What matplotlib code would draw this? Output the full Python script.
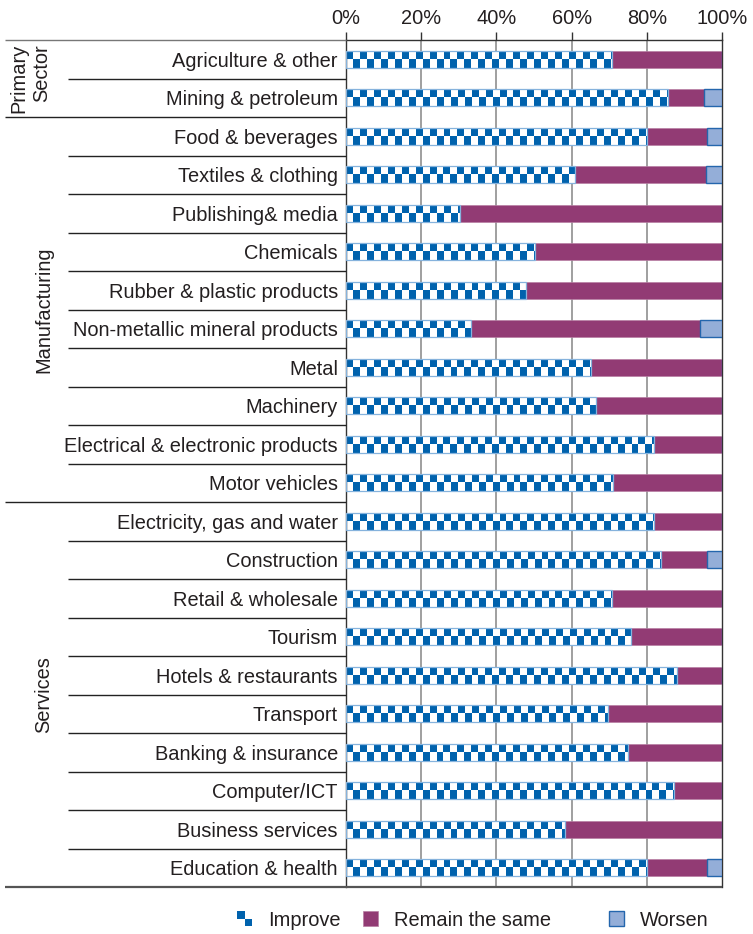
import numpy as np
import matplotlib
matplotlib.use("Agg")
import matplotlib.pyplot as plt
from matplotlib.colors import ListedColormap
from matplotlib.patches import Rectangle
from matplotlib.legend_handler import HandlerBase
import matplotlib.transforms as mtransforms

plt.rcParams['font.family'] = ['Liberation Sans', 'DejaVu Sans']

categories = [
    "Agriculture & other", "Mining & petroleum",
    "Food & beverages", "Textiles & clothing", "Publishing& media", "Chemicals",
    "Rubber & plastic products", "Non-metallic mineral products", "Metal",
    "Machinery", "Electrical & electronic products", "Motor vehicles",
    "Electricity, gas and water", "Construction", "Retail & wholesale", "Tourism",
    "Hotels & restaurants", "Transport", "Banking & insurance", "Computer/ICT",
    "Business services", "Education & health",
]
improve = [70.7, 85.7, 80.0, 60.9, 30.2, 50.2, 47.8, 33.3, 65.1, 66.6, 81.9,
           71.1, 82.0, 83.8, 70.8, 75.8, 87.9, 69.7, 75.0, 87.2, 58.2, 80.0]
remain = [29.3, 9.6, 16.0, 34.8, 69.8, 49.8, 52.2, 60.9, 34.9, 33.4, 18.1,
          28.9, 18.0, 12.3, 29.2, 24.2, 12.1, 30.3, 25.0, 12.8, 41.8, 16.0]
worsen = [0, 4.7, 4.0, 4.3, 0, 0, 0, 5.8, 0, 0, 0,
          0, 0, 3.9, 0, 0, 0, 0, 0, 0, 0, 4.0]
groups = [("Primary\nSector", 0, 1), ("Manufacturing", 2, 11), ("Services", 12, 21)]
xticks = [0, 20, 40, 60, 80, 100]
xticklabels = ["0%", "20%", "40%", "60%", "80%", "100%"]
series_names = ["Improve", "Remain the same", "Worsen"]

BLUE = "#0062ad"
BLUE_EDGE = "#86b3dd"
PURPLE = "#923b74"
WORSEN = "#94aed8"
WORSEN_EDGE = "#2466ad"
TEXT = "#231f20"

fig = plt.figure(figsize=(7.53, 9.34), dpi=100)
ax = fig.add_axes([346 / 753, 1 - 887 / 934, 376 / 753, 847 / 934])

n = len(categories)
y = np.arange(n)
h = 0.45
improve = np.array(improve)
remain = np.array(remain)
worsen = np.array(worsen)

# grid
for gx in xticks[1:-1]:
    ax.axvline(gx, color="#8f8f8f", lw=1.2, zorder=1)

bars_imp = ax.barh(y, improve, height=h, facecolor="none",
                   edgecolor=BLUE_EDGE, lw=0.9, zorder=4)
ax.barh(y, remain, left=improve, height=h, color=PURPLE,
        edgecolor="#b77fa3", lw=0.5, zorder=3)
ax.barh(y, worsen, left=improve + remain, height=h, color=WORSEN,
        edgecolor=WORSEN_EDGE, lw=1.0, zorder=3)

# checker texture for "Improve" bars
cw = 100 / 54.0
cmap = ListedColormap(["white", BLUE])
for yi, v, bar in zip(y, improve, bars_imp):
    ncols = int(np.ceil(v / cw))
    arr = 1 - (np.indices((2, ncols)).sum(axis=0) % 2)
    im = ax.imshow(arr, cmap=cmap, vmin=0, vmax=1, interpolation="nearest",
                   extent=(0, ncols * cw, yi + h / 2, yi - h / 2),
                   aspect="auto", zorder=2, origin="upper")
    im.set_clip_path(bar)

ax.set_xlim(0, 100)
ax.set_ylim(n - 0.5, -0.5)

ax.set_yticks(y, categories)
ax.tick_params(axis="y", length=0, pad=5.8, labelsize=14.4, labelcolor=TEXT)
ax.xaxis.tick_top()
ax.set_xticks(xticks, xticklabels)
ax.tick_params(axis="x", length=6, width=1, color="#333333", pad=2.5,
               labelsize=14.4, labelcolor=TEXT)

for s in ["left", "right", "top"]:
    ax.spines[s].set_color("#333333")
    ax.spines[s].set_linewidth(1)
ax.spines["bottom"].set_visible(False)

trans = mtransforms.blended_transform_factory(ax.transAxes, ax.transData)
# row separators in label area
group_bounds = set()
for _, a, b in groups:
    group_bounds.add(a - 0.5)
    group_bounds.add(b + 0.5)
for i in range(n + 1):
    yy = i - 0.5
    if yy in group_bounds:
        x0 = -0.907
    else:
        x0 = -0.739
    x1 = 1.0 if yy == n - 0.5 else 0.0
    col = "#555555" if yy == n - 0.5 else ("#777777" if yy == -0.5 else "#222222")
    lw = 1.6 if yy == n - 0.5 else 1.0
    ax.plot([x0, x1], [yy, yy], transform=trans, color=col, lw=lw,
            clip_on=False, zorder=5, solid_capstyle="butt")

# group labels
for name, a, b in groups:
    if "\n" in name:
        ax.text(-0.840, (a + b) / 2, name, transform=trans, rotation=90,
                ha="center", va="center", fontsize=14.4, color=TEXT,
                linespacing=1.25, multialignment="right")
    else:
        ax.text(-0.803, (a + b) / 2, name, transform=trans, rotation=90,
                ha="center", va="center", fontsize=14.4, color=TEXT)

# legend
class CheckerHandler(HandlerBase):
    def create_artists(self, legend, orig_handle, xdescent, ydescent,
                       width, height, fontsize, trans):
        w2, h2 = width / 2, height / 2
        arts = []
        for (cx, cy, c) in [(0, 1, BLUE), (1, 1, "white"), (0, 0, "white"), (1, 0, BLUE)]:
            r = Rectangle((-xdescent + cx * w2, -ydescent + cy * h2), w2, h2,
                          facecolor=c, edgecolor="none", transform=trans)
            arts.append(r)
        return arts

h_imp = Rectangle((0, 0), 1, 1, facecolor=BLUE)
h_rem = Rectangle((0, 0), 1, 1, facecolor=PURPLE, edgecolor="#b77fa3", lw=0.5)
h_wor = Rectangle((0, 0), 1, 1, facecolor=WORSEN, edgecolor=WORSEN_EDGE, lw=1.0)
handles = [h_imp, h_rem, h_wor]
xs = [237 / 753, 363 / 753, 609 / 753]
for hd, lab, xx in zip(handles, series_names, xs):
    kw = {}
    if hd is h_imp:
        kw["handler_map"] = {Rectangle: CheckerHandler()}
    lg = fig.legend([hd], [lab], loc="center left", bbox_to_anchor=(xx, 1 - 920 / 934),
                    frameon=False, borderpad=0, borderaxespad=0, handlelength=0.75,
                    handleheight=0.75, handletextpad=0.8, fontsize=14.4, **kw)
    for t in lg.get_texts():
        t.set_color(TEXT)

fig.savefig("out.png", dpi=100)
